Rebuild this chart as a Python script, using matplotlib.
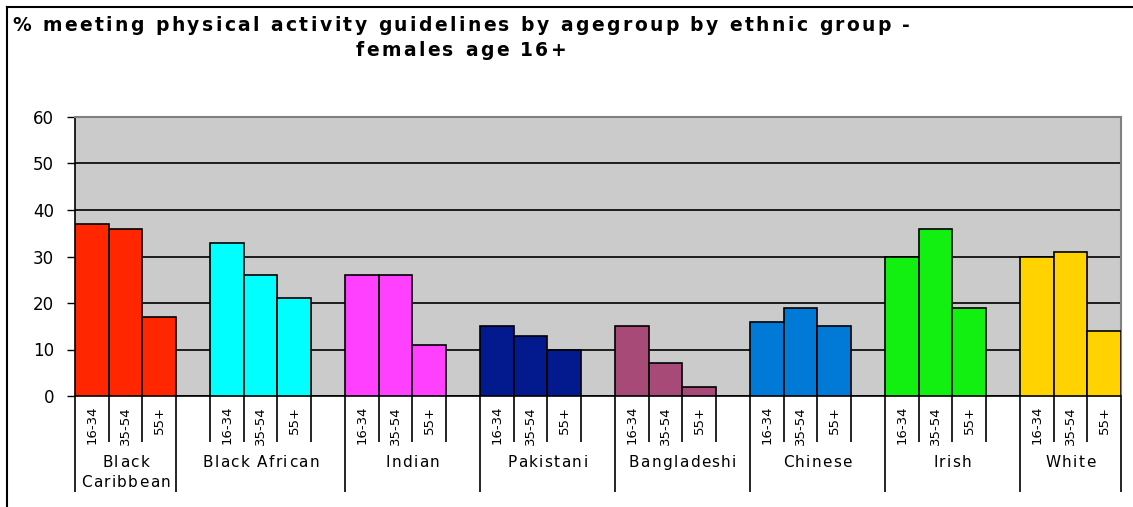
import matplotlib
matplotlib.use("Agg")
import matplotlib.pyplot as plt
from matplotlib.lines import Line2D
from matplotlib.transforms import IdentityTransform
from matplotlib.font_manager import FontProperties, findfont, get_font

# Données
groupes = ["Black\nCaribbean", "Black African", "Indian", "Pakistani",
           "Bangladeshi", "Chinese", "Irish", "White"]
ages = ["16-34", "35-54", "55+"]
valeurs = [
    [37, 36, 17],
    [33, 26, 21],
    [26, 26, 11],
    [15, 13, 10],
    [15, 7, 2],
    [16, 19, 15],
    [30, 36, 19],
    [30, 31, 14],
]
couleurs = ["#FF2600", "#00FFFF", "#FF40FF", "#031A8F",
            "#A84A77", "#007AD6", "#11F011", "#FFD200"]
# limites des étiquettes de groupe (en positions de barres)
limites = [0, 3, 8, 12, 16, 20, 24, 28, 31]
titre = ["% meeting physical activity guidelines by agegroup by ethnic group -",
         "females age 16+"]

W, H = 1133, 507
DPI = 100
fig = plt.figure(figsize=(W / DPI, H / DPI), dpi=DPI)
x0, x1, y0, y1 = 75, 1121, 117, 396
ax = fig.add_axes([x0 / W, (H - y1) / H, (x1 - x0) / W, (y1 - y0) / H])
ax.set_facecolor("#CBCBCB")


def avances(s, fp):
    font = get_font(findfont(fp))
    font.set_size(fp.get_size_in_points(), DPI)
    return [font.load_char(ord(c)).linearHoriAdvance / 65536 for c in s]


def texte_espace(cx, base, s, fp, track):
    # texte centré sur cx, lettres espacées (pixels, y depuis le haut)
    adv = avances(s, fp)
    x = cx - (sum(adv) + track * (len(s) - 1)) / 2
    for c, a in zip(s, adv):
        fig.text(x, H - base, c, transform=IdentityTransform(), ha="left",
                 va="baseline", fontproperties=fp)
        x += a + track


# Barres
for g, vals in enumerate(valeurs):
    pos = [4 * g + j for j in range(3)]
    ax.bar(pos, vals, width=1, align="edge", color=couleurs[g],
           edgecolor="black", linewidth=1.2, zorder=3)

ax.set_xlim(0, 31)
ax.set_ylim(0, 60)
ax.set_yticks(range(0, 61, 10))
ax.yaxis.grid(True, color="black", linewidth=1.2, zorder=0)
ax.set_axisbelow(True)
ax.tick_params(axis="y", direction="out", length=6, width=1,
               labelsize=12, pad=9)
for lab in ax.get_yticklabels():
    lab.set_fontfamily("DejaVu Sans")

for s in ["top", "right"]:
    ax.spines[s].set_color("#808080")
    ax.spines[s].set_linewidth(1.5)
for s in ["left", "bottom"]:
    ax.spines[s].set_color("black")
    ax.spines[s].set_linewidth(1.2)

# Graduations de l'axe x: courtes entre barres, longues entre groupes
bords = sorted({4 * g + j for g in range(8) for j in range(4)} - set(limites))
ax.set_xticks(bords)
ax.set_xticks(limites, minor=True)
ax.tick_params(axis="x", which="major", direction="out", length=33, width=1.2,
               labelbottom=False, color="black")
ax.tick_params(axis="x", which="minor", direction="out", length=69, width=1.2,
               labelbottom=False, color="black")

# Étiquettes d'âge verticales
trans = ax.get_xaxis_transform()
for g in range(8):
    for j, a in enumerate(ages):
        ax.text(4 * g + j + 0.5, (y1 - 406) / (y1 - y0), a, rotation=90,
                ha="center", va="top", fontsize=9.5, family="DejaVu Sans",
                transform=trans)

# Étiquettes de groupe
fp_groupe = FontProperties(family="DejaVu Sans", size=11)
for g, nom in enumerate(groupes):
    c = (limites[g] + limites[g + 1]) / 2
    px = ax.transData.transform((c, 0))[0]
    for k, ligne in enumerate(nom.split("\n")):
        texte_espace(px, 467 + 20 * k, ligne, fp_groupe, 1.4)

# Titre (largeur de la première ligne ~898 px)
fp_titre = FontProperties(family="DejaVu Sans", size=13.5, weight="bold")
nat = sum(avances(titre[0], fp_titre))
track = (898 - nat) / (len(titre[0]) - 1)
texte_espace(461, 31, titre[0], fp_titre, track)
texte_espace(461, 56, titre[1], fp_titre, track)

# Cadre partiel
fig.add_artist(Line2D([7 / W, 7 / W], [0, 1 - 7 / H], color="black",
                      linewidth=1.5, transform=fig.transFigure))
fig.add_artist(Line2D([7 / W, 1], [1 - 7 / H, 1 - 7 / H], color="black",
                      linewidth=1.5, transform=fig.transFigure))

fig.savefig("out.png", dpi=DPI)
